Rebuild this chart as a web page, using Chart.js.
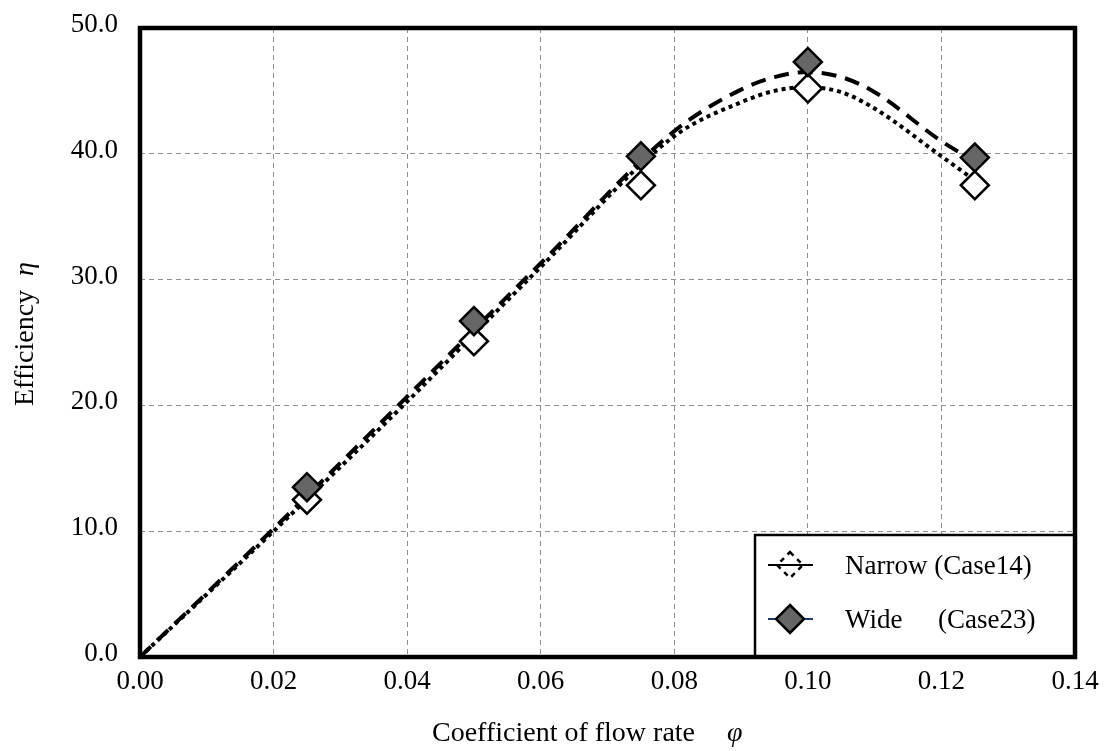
<!DOCTYPE html>
<html>
<head>
<meta charset="utf-8">
<script src="https://cdn.jsdelivr.net/npm/chart.js@4/dist/chart.umd.min.js"></script>
<style>
  html, body { margin: 0; padding: 0; background: #fff; }
  #wrap { width: 1112px; height: 751px; position: relative; }
</style>
</head>
<body>
<div id="wrap"><canvas id="chart"></canvas></div>
<script>
// measured points
var phi = [0.025, 0.05, 0.075, 0.10, 0.125];
var narrow = [12.5, 25.1, 37.5, 45.2, 37.5];
var wide = [13.5, 26.7, 39.8, 47.3, 39.7];

// trend curves
var phiTrend = [0, 0.02, 0.04, 0.06, 0.08, 0.09, 0.095, 0.10, 0.105, 0.11, 0.12, 0.125];
var narrowTrend = [0, 10.0, 20.3, 31.0, 41.4, 44.1, 45.0, 45.3, 44.9, 43.6, 39.8, 37.9];
var wideTrend = [0, 10.2, 20.7, 31.3, 41.8, 45.1, 46.1, 46.5, 46.1, 44.9, 41.0, 39.4];

var xTicks = [0, 0.02, 0.04, 0.06, 0.08, 0.10, 0.12, 0.14];
var yTicks = [0, 10, 20, 30, 40, 50];

var legendLabels = ['Narrow (Case14)', 'Wide', '(Case23)'];

function pts(xs, ys) {
    return xs.map(function (x, i) { return { x: x, y: ys[i] }; });
}

var serif = '"Liberation Serif", "Times New Roman", serif';

var framePlugin = {
    id: 'frame',
    afterDraw: function (chart) {
        var ctx = chart.ctx;
        var a = chart.chartArea;
        ctx.save();

        // legend box
        var lx = 755, ly = 535;
        ctx.fillStyle = '#fff';
        ctx.fillRect(lx, ly, a.right - lx, a.bottom - ly);
        ctx.strokeStyle = '#000';
        ctx.lineWidth = 2.5;
        ctx.strokeRect(lx, ly, a.right - lx, a.bottom - ly);

        // narrow symbol
        ctx.lineWidth = 2;
        ctx.beginPath(); ctx.moveTo(768, 565); ctx.lineTo(813, 565); ctx.stroke();
        ctx.setLineDash([5, 5]);
        ctx.lineWidth = 2.5;
        ctx.beginPath();
        ctx.moveTo(790, 552); ctx.lineTo(803, 565); ctx.lineTo(790, 578); ctx.lineTo(777, 565); ctx.closePath();
        ctx.stroke();
        ctx.setLineDash([]);

        // wide symbol
        ctx.strokeStyle = '#1f3a6e';
        ctx.lineWidth = 2;
        ctx.beginPath(); ctx.moveTo(768, 619); ctx.lineTo(813, 619); ctx.stroke();
        ctx.beginPath();
        ctx.moveTo(790, 605); ctx.lineTo(804, 619); ctx.lineTo(790, 633); ctx.lineTo(776, 619); ctx.closePath();
        ctx.fillStyle = '#666';
        ctx.fill();
        ctx.strokeStyle = '#000';
        ctx.lineWidth = 2.5;
        ctx.stroke();

        ctx.fillStyle = '#000';
        ctx.font = '27px ' + serif;
        ctx.textAlign = 'left';
        ctx.textBaseline = 'alphabetic';
        ctx.fillText(legendLabels[0], 845, 574);
        ctx.fillText(legendLabels[1], 845, 628);
        ctx.fillText(legendLabels[2], 938, 628);

        // plot frame
        ctx.lineWidth = 4.5;
        ctx.strokeStyle = '#000';
        ctx.strokeRect(a.left, a.top, a.right - a.left, a.bottom - a.top);

        // x title
        ctx.font = '28px ' + serif;
        ctx.fillText('Coefficient of flow rate', 432, 741);
        ctx.font = 'italic 28px ' + serif;
        ctx.fillText('\u03C6', 727, 741);

        // y title
        ctx.translate(33, 406);
        ctx.rotate(-Math.PI / 2);
        ctx.font = '28px ' + serif;
        ctx.fillText('Efficiency', 0, 0);
        var w = ctx.measureText('Efficiency').width;
        ctx.font = 'italic 28px ' + serif;
        ctx.fillText('\u03B7', w + 14, 0);
        ctx.restore();
    }
};

new Chart(document.getElementById('chart').getContext('2d'), {
    type: 'scatter',
    data: {
        datasets: [
            {
                label: 'Wide',
                data: pts(phi, wide),
                pointStyle: 'rectRot',
                pointRadius: 14,
                pointHoverRadius: 14,
                pointBackgroundColor: '#666',
                pointBorderColor: '#000',
                pointBorderWidth: 2.5,
                showLine: false,
                order: 1
            },
            {
                label: 'Narrow',
                data: pts(phi, narrow),
                pointStyle: 'rectRot',
                pointRadius: 14,
                pointHoverRadius: 14,
                pointBackgroundColor: '#fff',
                pointBorderColor: '#000',
                pointBorderWidth: 2.5,
                showLine: false,
                order: 2
            },
            {
                label: 'Wide trend',
                data: pts(phiTrend, wideTrend),
                showLine: true,
                pointRadius: 0,
                borderColor: '#000',
                borderWidth: 4,
                borderDash: [15, 9],
                cubicInterpolationMode: 'monotone',
                fill: false,
                order: 3
            },
            {
                label: 'Narrow trend',
                data: pts(phiTrend, narrowTrend),
                showLine: true,
                pointRadius: 0,
                borderColor: '#000',
                borderWidth: 4,
                borderDash: [4, 4],
                cubicInterpolationMode: 'monotone',
                fill: false,
                order: 4
            }
        ]
    },
    options: {
        responsive: true,
        maintainAspectRatio: false,
        animation: false,
        layout: { padding: { top: 28, right: 37, left: 0, bottom: 0 } },
        plugins: {
            legend: { display: false },
            tooltip: { enabled: false }
        },
        scales: {
            x: {
                type: 'linear',
                min: 0,
                max: 0.14,
                afterFit: function (s) { s.height = 94; s.paddingLeft = 0; s.paddingRight = 0; },
                afterBuildTicks: function (s) { s.ticks = xTicks.map(function (v) { return { value: v }; }); },
                ticks: {
                    color: '#000',
                    font: { family: serif, size: 27 },
                    padding: 9,
                    maxRotation: 0,
                    callback: function (v) { return Number(v).toFixed(2); }
                },
                grid: { color: '#909090', lineWidth: 1, drawTicks: false },
                border: { display: false, dash: [5, 4] }
            },
            y: {
                min: 0,
                max: 50,
                afterFit: function (s) { s.width = 140; s.paddingTop = 0; s.paddingBottom = 0; },
                afterBuildTicks: function (s) { s.ticks = yTicks.map(function (v) { return { value: v }; }); },
                ticks: {
                    color: '#000',
                    font: { family: serif, size: 27 },
                    padding: 22,
                    labelOffset: -3,
                    callback: function (v) { return Number(v).toFixed(1); }
                },
                grid: { color: '#909090', lineWidth: 1, drawTicks: false },
                border: { display: false, dash: [5, 4] }
            }
        }
    },
    plugins: [framePlugin]
});
</script>
</body>
</html>
